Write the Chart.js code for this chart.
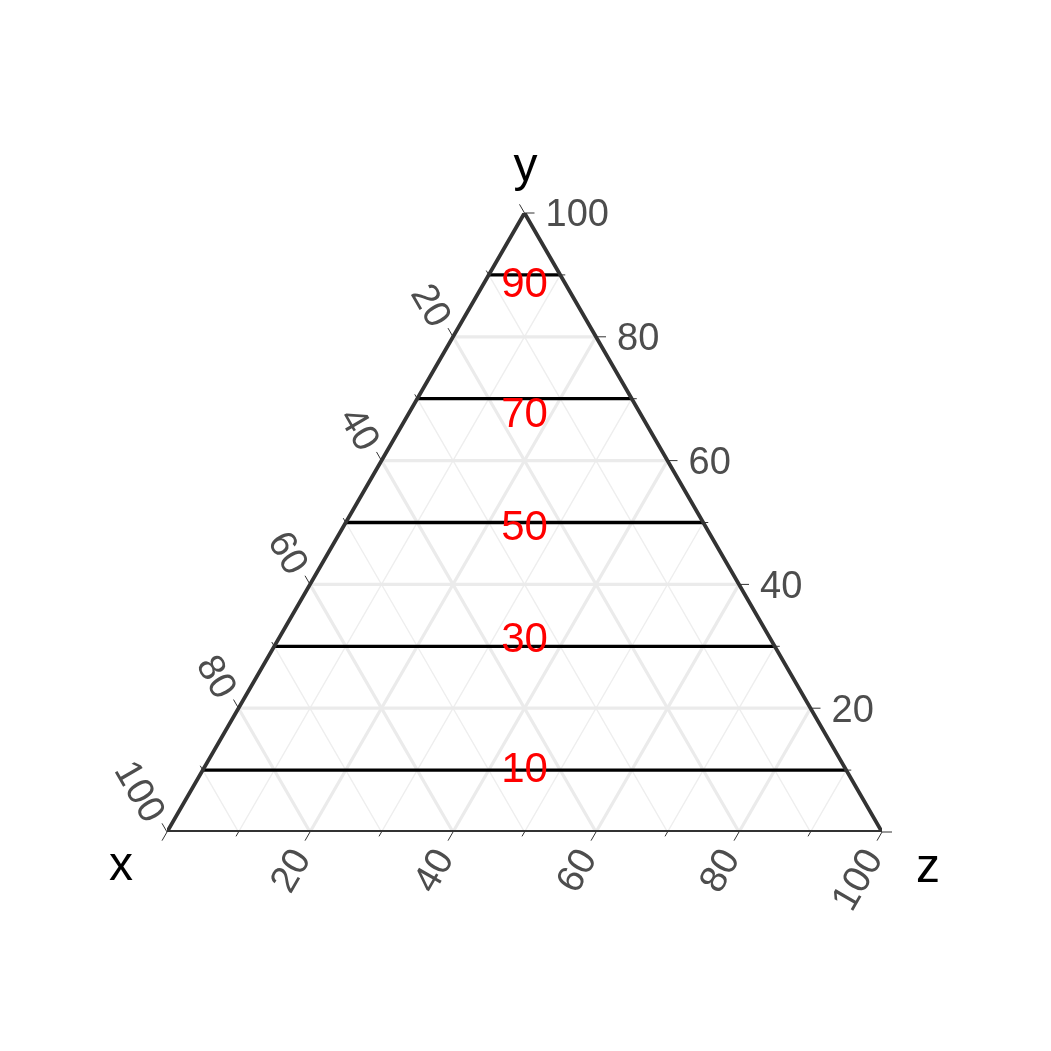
<!DOCTYPE html>
<html>
<head>
<meta charset="utf-8">
<script src="https://cdn.jsdelivr.net/npm/chart.js@4.4.1/dist/chart.umd.min.js"></script>
<style>
  html, body { margin: 0; padding: 0; background: #fff; }
  #wrap { width: 1051px; height: 1051px; }
</style>
</head>
<body>
<div id="wrap"><canvas id="ternChart" width="1051" height="1051"></canvas></div>
<script>
// Ternary plot data (x at bottom-left, y at top, z at bottom-right)
const yLevels = [10, 30, 50, 70, 90];
const levelLabels = ['10', '30', '50', '70', '90'];
const labelPosY = [10.3, 31.3, 49.3, 67.7, 88.7];
const majorGrid = [20, 40, 60, 80];
const minorGrid = [10, 30, 50, 70, 90];
const tickValues = [0, 10, 20, 30, 40, 50, 60, 70, 80, 90, 100];
const tickLabels = ['20', '40', '60', '80', '100'];
const axisTitles = ['x', 'y', 'z'];

const SQ3 = Math.sqrt(3);

// ternary -> cartesian (data units)
function tern(x, y, z) {
    const s = x + y + z;
    return { x: (z + y / 2) / s * 100, y: (y * SQ3 / 2) / s * 100 };
}

function segX(v) { return [tern(v, 100 - v, 0), tern(v, 0, 100 - v)]; }
function segY(v) { return [tern(100 - v, v, 0), tern(0, v, 100 - v)]; }
function segZ(v) { return [tern(100 - v, 0, v), tern(0, 100 - v, v)]; }

function lineSet(data, color, width, order) {
    return {
        type: 'line',
        data: data,
        borderColor: color,
        borderWidth: width,
        pointRadius: 0,
        showLine: true,
        fill: false,
        tension: 0,
        order: order
    };
}

const datasets = [];
minorGrid.forEach(v => {
    [segX(v), segY(v), segZ(v)].forEach(s => datasets.push(lineSet(s, '#eeeeee', 1.4, 5)));
});
majorGrid.forEach(v => {
    [segX(v), segY(v), segZ(v)].forEach(s => datasets.push(lineSet(s, '#ebebeb', 3.2, 4)));
});
yLevels.forEach(v => datasets.push(lineSet(segY(v), '#000000', 3.3, 2)));
datasets.push(lineSet([tern(100, 0, 0), tern(0, 100, 0), tern(0, 0, 100), tern(100, 0, 0)], '#333333', 3.8, 1));

const FONT = '"Liberation Sans", Arial, sans-serif';

// ticks, tick labels, axis titles and red labels
const ternDecor = {
    id: 'ternDecor',
    afterDatasetsDraw(chart) {
        const ctx = chart.ctx;
        const sx = chart.scales.x, sy = chart.scales.y;
        const px = p => ({ x: sx.getPixelForValue(p.x), y: sy.getPixelForValue(p.y) });
        ctx.save();

        // ticks
        ctx.strokeStyle = '#333333';
        ctx.lineWidth = 1;
        tickValues.forEach(v => {
            const len = v % 20 === 0 ? 10 : 5;
            const a = px(tern(v, 100 - v, 0));   // x axis on left edge
            const b = px(tern(0, v, 100 - v));   // y axis on right edge
            const c = px(tern(100 - v, 0, v));   // z axis on bottom edge
            ctx.beginPath();
            ctx.moveTo(a.x, a.y); ctx.lineTo(a.x - 0.5 * len, a.y - SQ3 / 2 * len);
            ctx.moveTo(b.x, b.y); ctx.lineTo(b.x + len, b.y);
            ctx.moveTo(c.x, c.y); ctx.lineTo(c.x - 0.5 * len, c.y + SQ3 / 2 * len);
            ctx.stroke();
        });

        // tick labels
        ctx.fillStyle = '#4d4d4d';
        ctx.font = '38px ' + FONT;
        tickLabels.forEach(t => {
            const v = Number(t);
            const a = px(tern(v, 100 - v, 0));
            ctx.save();
            ctx.translate(a.x, a.y);
            ctx.rotate(Math.PI / 3);
            ctx.textAlign = 'right';
            ctx.textBaseline = 'middle';
            ctx.fillText(t, -17, 5);
            ctx.restore();

            const b = px(tern(0, v, 100 - v));
            ctx.textAlign = 'left';
            ctx.textBaseline = 'middle';
            ctx.fillText(t, b.x + 21, b.y + 3);

            const c = px(tern(100 - v, 0, v));
            ctx.save();
            ctx.translate(c.x, c.y);
            ctx.rotate(-Math.PI / 3);
            ctx.textAlign = 'right';
            ctx.textBaseline = 'middle';
            ctx.fillText(t, -22, 4);
            ctx.restore();
        });

        // axis titles
        ctx.fillStyle = '#000000';
        ctx.font = '48px ' + FONT;
        ctx.textAlign = 'center';
        ctx.textBaseline = 'alphabetic';
        const vx = px(tern(100, 0, 0)), vy = px(tern(0, 100, 0)), vz = px(tern(0, 0, 100));
        ctx.fillText(axisTitles[0], vx.x - 46, vx.y + 48);
        ctx.fillText(axisTitles[1], vy.x + 1, vy.y - 32);
        ctx.fillText(axisTitles[2], vz.x + 46, vz.y + 50);

        // red level labels on the x = z line
        ctx.fillStyle = '#ff0000';
        ctx.font = '42px ' + FONT;
        ctx.textAlign = 'center';
        ctx.textBaseline = 'middle';
        levelLabels.forEach((t, i) => {
            const yv = labelPosY[i];
            const p = px(tern((100 - yv) / 2, yv, (100 - yv) / 2));
            ctx.fillText(t, p.x, p.y + 2);
        });

        ctx.restore();
    }
};

new Chart(document.getElementById('ternChart'), {
    type: 'scatter',
    data: { datasets: datasets },
    options: {
        responsive: false,
        animation: false,
        events: [],
        layout: { padding: { left: 167, right: 169, top: 213, bottom: 219 } },
        plugins: { legend: { display: false }, tooltip: { enabled: false } },
        scales: {
            x: { type: 'linear', min: 0, max: 100, display: false },
            y: { type: 'linear', min: 0, max: 50 * SQ3, display: false }
        }
    },
    plugins: [ternDecor]
});
</script>
</body>
</html>
